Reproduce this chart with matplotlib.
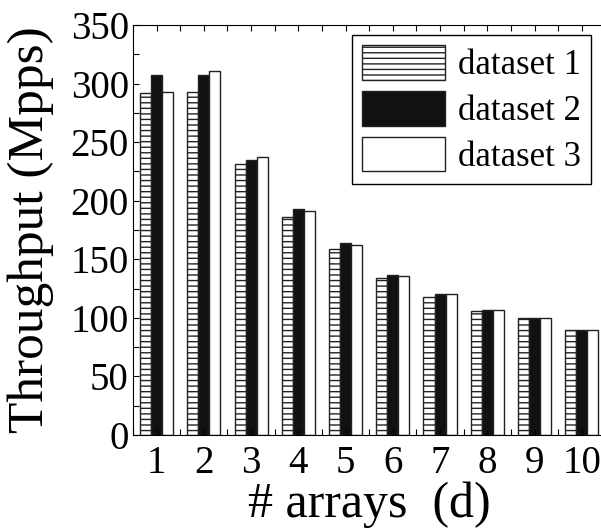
import matplotlib
matplotlib.use("Agg")
import matplotlib.pyplot as plt
import numpy as np
from matplotlib.ticker import MultipleLocator

plt.rcParams['font.family'] = ['Liberation Serif', 'DejaVu Serif']
plt.rcParams['hatch.linewidth'] = 1.0
plt.rcParams['hatch.color'] = '#333333'

# throughput per number of arrays
arrays = [1, 2, 3, 4, 5, 6, 7, 8, 9, 10]
dataset1 = [292, 293, 231, 186, 159, 134, 118, 106, 100, 90]
dataset2 = [307, 307, 235, 193, 164, 137, 120, 107, 100, 90]
dataset3 = [293, 311, 237, 191, 162, 136, 120, 107, 100, 90]

fig = plt.figure(figsize=(6.01, 5.31), dpi=100)
ax = fig.add_axes([0.2213, 0.1808, 0.786, 0.772])

x = np.array(arrays)
w = 0.234
ax.bar(x - w, dataset1, w, color='white', edgecolor='#222222', linewidth=1,
       hatch='---', label='dataset 1')
ax.bar(x, dataset2, w, color='#111111', edgecolor='#222222', linewidth=1,
       label='dataset 2')
ax.bar(x + w, dataset3, w, color='white', edgecolor='#222222', linewidth=1,
       label='dataset 3')

ax.set_xlim(0.5, 10.5)
ax.set_ylim(0, 350)
ax.set_xticks(arrays)
ax.xaxis.set_minor_locator(MultipleLocator(0.5))
ax.yaxis.set_major_locator(MultipleLocator(50))
ax.yaxis.set_minor_locator(MultipleLocator(25))
ax.tick_params(which='both', direction='in', top=True, right=False,
               length=4, width=0.8, labelsize=28)
ax.tick_params(axis='x', pad=7)
ax.tick_params(axis='y', pad=3)

ax.set_xlabel('# arrays  (d)', fontsize=36, labelpad=0)
ax.set_ylabel('Throughput (Mpps)', fontsize=37, labelpad=12)

leg = ax.legend(loc='upper right', bbox_to_anchor=(591 / 601, 1 - 35 / 531),
                bbox_transform=fig.transFigure, borderaxespad=0,
                fontsize=25, fancybox=False, framealpha=1, edgecolor='black',
                handlelength=2.4, handleheight=1.15, handletextpad=0.35,
                labelspacing=0.25, borderpad=0.3)
leg.get_frame().set_linewidth(1)

fig.savefig('out.png', dpi=100)
